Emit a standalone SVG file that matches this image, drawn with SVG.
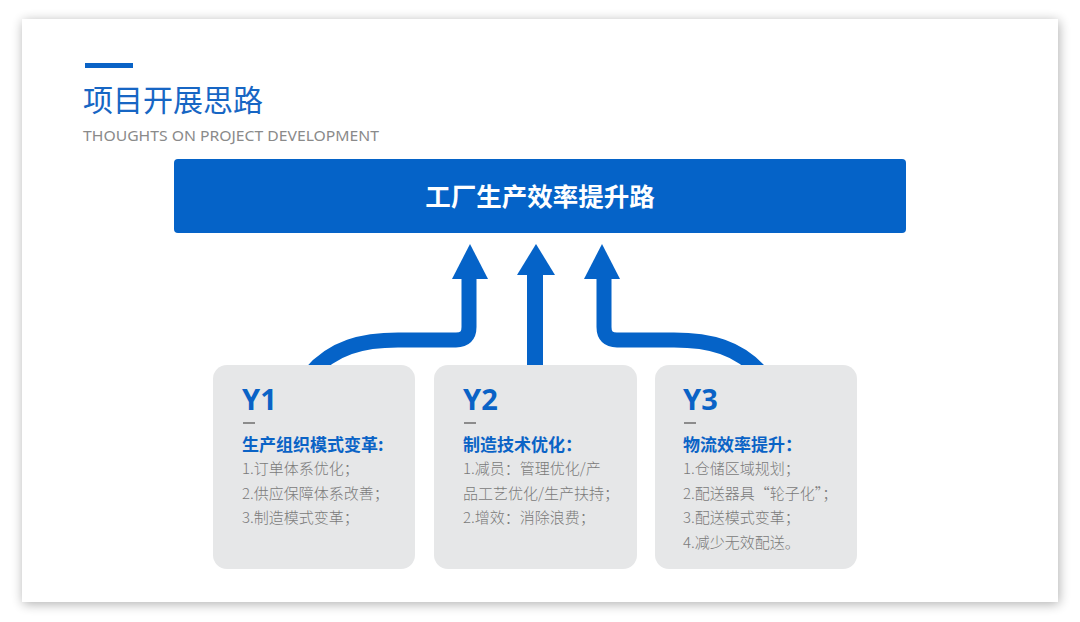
<svg xmlns="http://www.w3.org/2000/svg" width="1080" height="622" viewBox="0 0 1080 622">
  <defs>
    <filter id="sh" x="-5%" y="-5%" width="110%" height="115%">
      <feGaussianBlur in="SourceAlpha" stdDeviation="6"/>
      <feOffset dx="1" dy="2" result="b"/>
      <feComponentTransfer><feFuncA type="linear" slope="0.32"/></feComponentTransfer>
      <feMerge><feMergeNode/><feMergeNode in="SourceGraphic"/></feMerge>
    </filter>
    <style>
      .cn{font-family:"Noto Sans CJK SC","Noto Sans",sans-serif;}
      .card{fill:#E6E7E8;}
      .ylab{font-family:"Noto Sans","Open Sans",sans-serif;font-weight:bold;font-size:29px;fill:#0A63C6;}
      .head{font-family:"Noto Sans CJK SC",sans-serif;font-weight:bold;font-size:17px;fill:#0A63C6;}
      .body{font-family:"Noto Sans CJK SC",sans-serif;font-weight:300;font-size:15px;fill:#7A7A7A;}
      .dash{fill:#8C8C8C;}
      .arr{fill:none;stroke:#0563C8;stroke-width:15;}
      .head-tri{fill:#0563C8;}
    </style>
  </defs>
  <rect x="0" y="0" width="1080" height="622" fill="#FFFFFF"/>
  <rect x="22" y="19" width="1036" height="583" fill="#FFFFFF" filter="url(#sh)"/>

  <g id="title">
    <rect x="85" y="63" width="48" height="5" fill="#0A63C6"/>
    <text x="83" y="111" class="cn" font-size="30" fill="#1766C4">项目开展思路</text>
    <text x="83" y="141" font-family="'Noto Sans','Liberation Sans',sans-serif" font-size="15" fill="#8A8A8A" textLength="296" lengthAdjust="spacingAndGlyphs">THOUGHTS ON PROJECT DEVELOPMENT</text>
  </g>

  <g id="goal">
    <rect x="174" y="159" width="732" height="74" rx="4" fill="#0563C8"/>
    <text x="540" y="206" text-anchor="middle" font-family="'Noto Sans CJK SC',sans-serif" font-weight="bold" font-size="25.5" fill="#FFFFFF">工厂生产效率提升路</text>
  </g>

  <g id="connectors">
    <path class="arr" d="M 310 374 C 333 347, 363 340, 398 340 L 456 340 Q 469 340 469 327 L 469 276"/>
    <polygon class="head-tri" points="470,244 452,279 488,279"/>
    <path class="arr" d="M 535 370 L 535 272" style="stroke-width:16"/>
    <polygon class="head-tri" points="536,244 517,275 555,275"/>
    <path class="arr" d="M 762 374 C 739 347, 709 340, 674 340 L 617 340 Q 604 340 604 327 L 604 276"/>
    <polygon class="head-tri" points="602,244 584,279 620,279"/>
  </g>

  <g id="y1">
    <rect class="card" x="213" y="365" width="202" height="204" rx="14"/>
    <text x="242" y="410" class="ylab">Y1</text>
    <rect class="dash" x="243" y="422" width="12" height="2"/>
    <text x="242" y="451" class="head">生产组织模式变革:</text>
    <text x="242" y="474" class="body">1.订单体系优化；</text>
    <text x="242" y="499" class="body">2.供应保障体系改善；</text>
    <text x="242" y="523" class="body">3.制造模式变革；</text>
  </g>

  <g id="y2">
    <rect class="card" x="434" y="365" width="203" height="204" rx="14"/>
    <text x="463" y="410" class="ylab">Y2</text>
    <rect class="dash" x="464" y="422" width="12" height="2"/>
    <text x="463" y="451" class="head">制造技术优化：</text>
    <text x="463" y="474" class="body">1.减员：管理优化/产</text>
    <text x="463" y="499" class="body">品工艺优化/生产扶持；</text>
    <text x="463" y="523" class="body">2.增效：消除浪费；</text>
  </g>

  <g id="y3">
    <rect class="card" x="655" y="365" width="202" height="204" rx="14"/>
    <text x="683" y="410" class="ylab">Y3</text>
    <rect class="dash" x="684" y="422" width="12" height="2"/>
    <text x="683" y="451" class="head">物流效率提升：</text>
    <text x="683" y="474" class="body">1.仓储区域规划；</text>
    <text x="683" y="499" class="body">2.配送器具“轮子化”；</text>
    <text x="683" y="523" class="body">3.配送模式变革；</text>
    <text x="683" y="548" class="body">4.减少无效配送。</text>
  </g>
</svg>
